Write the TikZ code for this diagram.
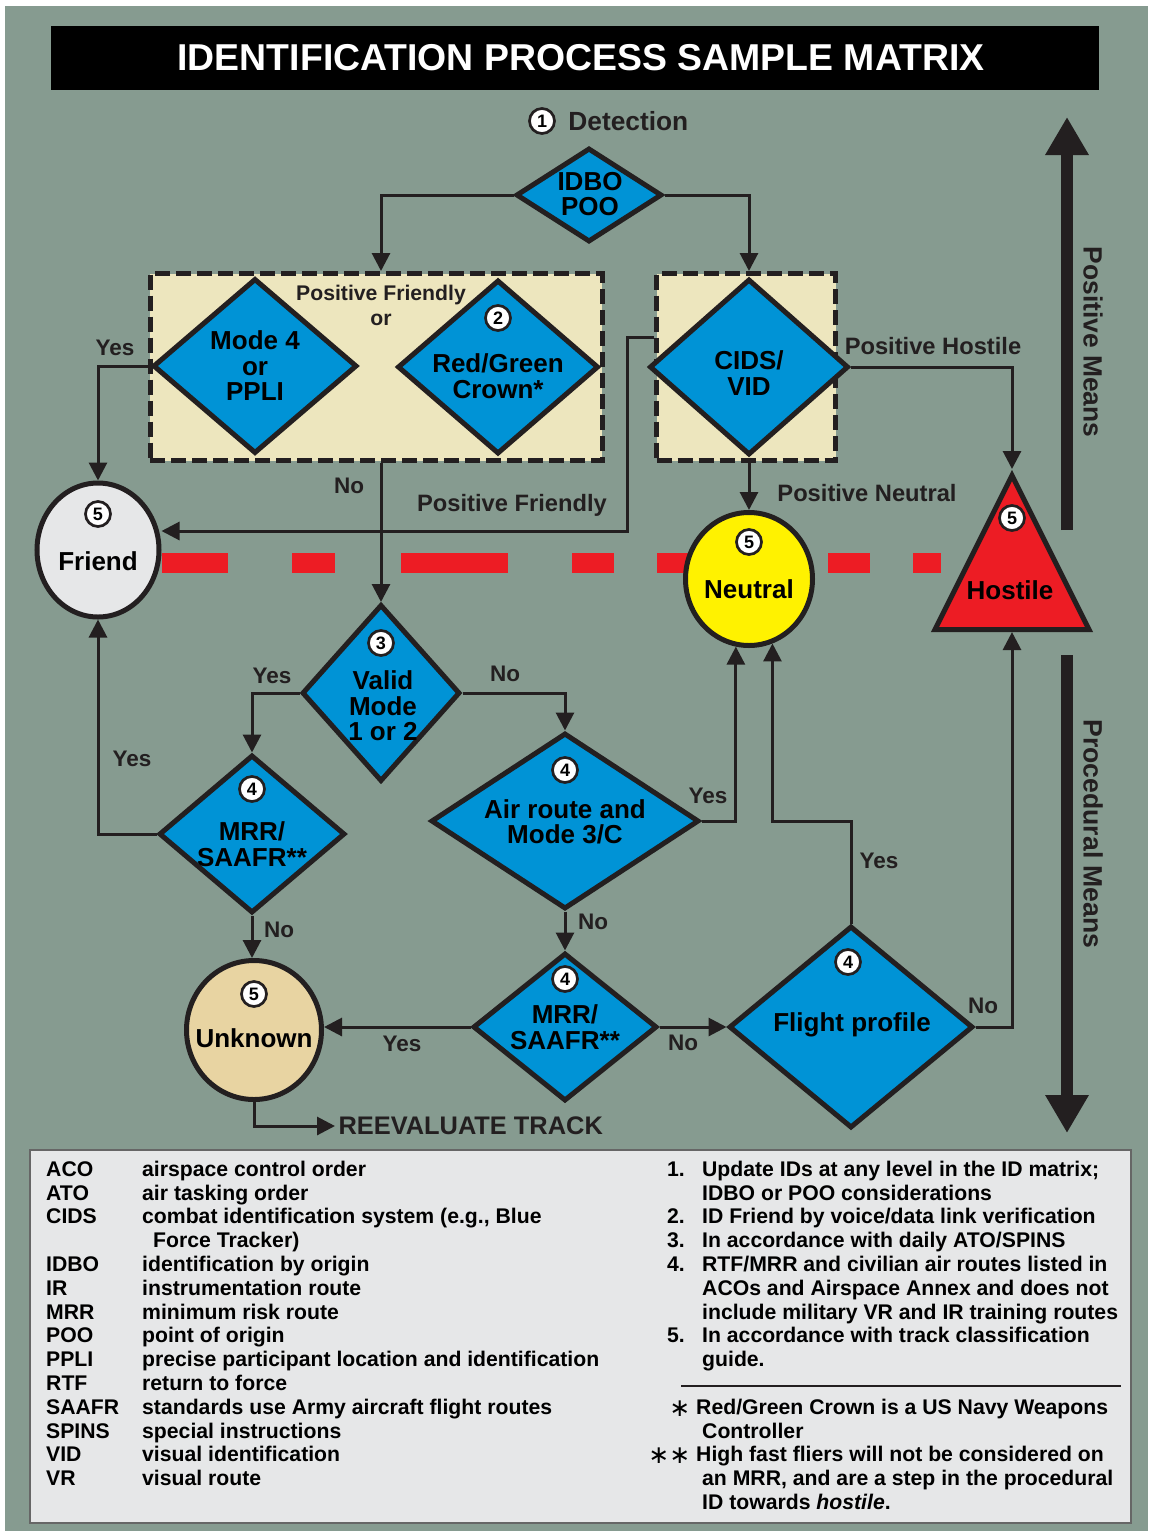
\documentclass[tikz,border=0pt]{standalone}
\usepackage{fontspec}
\setmainfont{Liberation Sans}
\newfontfamily\starfont{DejaVu Sans}
\usetikzlibrary{positioning}
\usetikzlibrary{shapes.geometric}
\usetikzlibrary{arrows.meta}

\definecolor{panelgreen}{RGB}{134,155,144}
\definecolor{boxtan}{RGB}{237,230,190}
\definecolor{idblue}{RGB}{0,147,214}
\definecolor{friendgray}{RGB}{230,231,232}
\definecolor{neutralyellow}{RGB}{255,242,0}
\definecolor{hostred}{RGB}{237,28,36}
\definecolor{unknowntan}{RGB}{232,212,162}
\definecolor{ink}{RGB}{35,31,32}

\begin{document}
\begin{tikzpicture}
		[x=1pt, y=-1pt,
		decision/.style={diamond, draw=ink, fill=idblue, line width=5pt, inner sep=0pt},
		inbox/.style={draw=ink, fill=boxtan, line width=5pt, dash pattern=on 15pt off 6pt, inner sep=0pt},
		outcome/.style={ellipse, draw=ink, line width=5pt, inner sep=0pt},
		tag/.style={circle, draw=ink, fill=white, line width=2.7pt, inner sep=0pt, minimum size=25pt, font=\bfseries\fontsize{18}{18}\selectfont},
		nodetext/.style={align=center, text=black, font=\bfseries\fontsize{26}{25.5}\selectfont},
		edgetext/.style={text=ink, font=\bfseries\fontsize{23.7}{24}\selectfont},
		yesno/.style={text=ink, font=\bfseries\fontsize{22.5}{24}\selectfont},
		link/.style={draw=ink, line width=3pt, -{Triangle[length=18pt, width=18pt]}},
		means/.style={draw=ink, line width=12pt, -{Triangle[length=38pt, width=41pt]}},
		legend/.style={anchor=north west, inner sep=0pt, text=black, font=\bfseries\fontsize{21.2}{23.8}\selectfont}]
		\useasboundingbox (0,0) rectangle (1151,1534);
		\fill[white] (0,0) rectangle (1151,1534);
		\fill[panelgreen] (5,6) rectangle (1148,1531);

		% title
		\node[fill=black, minimum width=1048pt, minimum height=64pt, inner sep=0pt] (titlebar) at (575,58) {};
		\node[text=white, font=\bfseries\fontsize{37.4}{37.4}\selectfont] (title) at (581,58) {IDENTIFICATION PROCESS SAMPLE MATRIX};

		% red line between friend and hostile
		\foreach \xa/\xb in {162/228, 292/335, 401/508, 572/614, 657/700, 828/870, 913/941}
			\fill[hostred] (\xa,553) rectangle (\xb,573);

		% positive means
		\node[tag] (tagdet) at (542,121) {1};
		\node[right=9pt of tagdet, text=ink, font=\bfseries\fontsize{26.3}{26.3}\selectfont] (detect) {Detection};
		\node[decision, minimum width=146pt, minimum height=94pt] (idbo) at (589,195) {};
		\node[nodetext] (idbotext) at (590,194) {IDBO\\POO};

		\node[inbox, minimum width=452pt, minimum height=187pt] (pfbox) at (376,367) {};
		\node[inbox, minimum width=179pt, minimum height=187pt] (cvbox) at (746,367) {};
		\node[align=center, text=ink, font=\bfseries\fontsize{21.2}{25}\selectfont] (pfor) at (381,305) {Positive Friendly\\or};

		\node[decision, minimum width=204pt, minimum height=175pt] (mode4) at (255,366) {};
		\node[nodetext] (mode4text) at (255,366) {Mode 4\\or\\PPLI};
		\node[decision, minimum width=201pt, minimum height=174pt] (crown) at (498,367) {};
		\node[tag] (tag2) at (498,318) {2};
		\node[nodetext] (crowntext) at (498,376) {Red/Green\\Crown*};
		\node[decision, minimum width=199pt, minimum height=176pt] (cids) at (749,367) {};
		\node[nodetext] (cidstext) at (749,373) {CIDS/\\VID};

		% outcomes
		\node[outcome, fill=friendgray, minimum width=122pt, minimum height=134pt] (friend) at (98,550) {};
		\node[tag] (tagfr) at (98,514) {5};
		\node[nodetext] (friendtext) at (98,561) {Friend};
		\node[outcome, fill=neutralyellow, minimum width=127pt, minimum height=133pt] (neutral) at (749,579) {};
		\node[tag] (tagne) at (749,542) {5};
		\node[nodetext] (neutraltext) at (749,589) {Neutral};
		\node[isosceles triangle, shape border rotate=90, isosceles triangle stretches, draw=ink, fill=hostred, line width=5pt, inner sep=0pt, minimum width=154pt, minimum height=154pt, anchor=apex] (hostile) at (1012,469) {};
		\node[tag] (tagho) at (1012,518) {5};
		\node[nodetext] (hostiletext) at (1010,590) {Hostile};

		% procedural means
		\node[decision, minimum width=158pt, minimum height=177pt] (valid) at (381,693) {};
		\node[tag] (tag3) at (381,643) {3};
		\node[nodetext] (validtext) at (383,706) {Valid\\Mode\\1 or 2};
		\node[decision, minimum width=186pt, minimum height=158pt] (mrrleft) at (252,834) {};
		\node[tag] (tag4a) at (252,789) {4};
		\node[nodetext] (mrrlefttext) at (252,844) {MRR/\\SAAFR**};
		\node[decision, minimum width=268pt, minimum height=176pt] (airroute) at (565,821) {};
		\node[tag] (tag4b) at (565,770) {4};
		\node[nodetext] (airroutetext) at (565,822) {Air route and\\Mode 3/C};
		\node[decision, minimum width=184pt, minimum height=148pt] (mrrmid) at (565,1027) {};
		\node[tag] (tag4c) at (565,979) {4};
		\node[nodetext] (mrrmidtext) at (565,1027) {MRR/\\SAAFR**};
		\node[decision, minimum width=244pt, minimum height=202pt] (flight) at (851,1027) {};
		\node[tag] (tag4d) at (848,962) {4};
		\node[nodetext] (flighttext) at (852,1025) {Flight profile};
		\node[outcome, fill=unknowntan, minimum width=135pt, minimum height=139pt] (unknown) at (254,1030) {};
		\node[tag] (tagun) at (254,994) {5};
		\node[nodetext] (unknowntext) at (254,1038) {Unknown};
		\node[anchor=west, text=ink, font=\bfseries\fontsize{25.4}{25.4}\selectfont] (reeval) at (335,1126) {REEVALUATE TRACK};

		% connectors
		\draw[link] (idbo.west) -| (valid |- pfbox.north);
		\draw[link] (idbo.east) -| (cids |- cvbox.north);
		\draw[link] (mode4.west) -| (friend.north);
		\draw[link] (valid |- pfbox.south) -- (valid.north);
		\draw[link] (cvbox.west |- 0,337) -| (627,531) -- (friend.east |- 0,531);
		\draw[link] (cids.east) -| (hostile.apex);
		\draw[link] (cids.south) -- (neutral.north);
		\draw[link] (valid.west) -| (mrrleft.north);
		\draw[link] (valid.east) -| (airroute.north);
		\draw[link] (mrrleft.west) -| (friend.south);
		\draw[link] (mrrleft.south) -- (mrrleft.south |- unknown.north);
		\draw[link] (airroute.east) -| (neutral.-101);
		\draw[link] (airroute.south) -- (mrrmid.north);
		\draw[link] (mrrmid.west) -- (mrrmid.west -| unknown.east);
		\draw[link] (mrrmid.east) -- (flight.west);
		\draw[link] (flight.north) -- (flight.north |- 0,821) -| (neutral.-70);
		\draw[link] (flight.east) -| (hostile.south);
		\draw[link] (unknown.south) |- (reeval.west);

		% connector labels
		\node[yesno] (l1) at (115,348) {Yes};
		\node[yesno] (l2) at (349,486) {No};
		\node[edgetext] (l3) at (512,505) {Positive Friendly};
		\node[edgetext] (l4) at (933,346) {Positive Hostile};
		\node[edgetext] (l5) at (867,493) {Positive Neutral};
		\node[yesno] (l6) at (272,676) {Yes};
		\node[yesno] (l7) at (505,674) {No};
		\node[yesno] (l8) at (132,759) {Yes};
		\node[yesno] (l9) at (279,930) {No};
		\node[yesno] (l10) at (708,796) {Yes};
		\node[yesno] (l11) at (593,922) {No};
		\node[yesno] (l12) at (879,861) {Yes};
		\node[yesno] (l13) at (402,1044) {Yes};
		\node[yesno] (l14) at (683,1043) {No};
		\node[yesno] (l15) at (983,1006) {No};

		% means arrows
		\coordinate (postop) at (1067,117);
		\coordinate (posbot) at (1067,530);
		\coordinate (protop) at (1067,655);
		\coordinate (probot) at (1067,1133);
		\draw[means] (posbot) -- (postop);
		\draw[means] (protop) -- (probot);
		\node[rotate=-90, text=ink, font=\bfseries\fontsize{26.4}{26.4}\selectfont] (posmeans) at (1093,342) {Positive Means};
		\node[rotate=-90, text=ink, font=\bfseries\fontsize{26.6}{26.6}\selectfont] (procmeans) at (1093,834) {Procedural Means};

		% legend
		\draw[fill=friendgray, draw=black!60, line width=2pt] (30,1150) rectangle (1131,1523);
		\node[legend] (abbrevs) at (46,1159.5) {%
			\begin{tabular}{@{}p{96pt}@{}l@{}}
				ACO & airspace control order\\
				ATO & air tasking order\\
				CIDS & combat identification system (e.g., Blue\\
				& \hspace{11pt}Force Tracker)\\
				IDBO & identification by origin\\
				IR & instrumentation route\\
				MRR & minimum risk route\\
				POO & point of origin\\
				PPLI & precise participant location and identification\\
				RTF & return to force\\
				SAAFR & standards use Army aircraft flight routes\\
				SPINS & special instructions\\
				VID & visual identification\\
				VR & visual route
			\end{tabular}};
		\node[legend] (notes) at (667,1159.5) {%
			\begin{tabular}{@{}p{35pt}@{}l@{}}
				1. & Update IDs at any level in the ID matrix;\\
				& IDBO or POO considerations\\
				2. & ID Friend by voice/data link verification\\
				3. & In accordance with daily ATO/SPINS\\
				4. & RTF/MRR and civilian air routes listed in\\
				& ACOs and Airspace Annex and does not\\
				& include military VR and IR training routes\\
				5. & In accordance with track classification\\
				& guide.
			\end{tabular}};
		\draw[ink, line width=2pt] (681,1386) -- (1121,1386);
		\node[legend] (stars) at (657,1397.5) {%
			\begin{tabular}{@{}r@{\hspace{6pt}}l@{}}
				\makebox[33pt][r]{\starfont\mdseries\fontsize{25}{23.8}\selectfont\raisebox{-2pt}{∗}} & Red/Green Crown is a US Navy Weapons\\
				& \hspace{6pt}Controller\\
				\makebox[33pt][r]{\starfont\mdseries\fontsize{25}{23.8}\selectfont\raisebox{-2pt}{∗∗}} & High fast fliers will not be considered on\\
				& \hspace{6pt}an MRR, and are a step in the procedural\\
				& \hspace{6pt}ID towards \textit{hostile}.
			\end{tabular}};
	\end{tikzpicture}
\end{document}
